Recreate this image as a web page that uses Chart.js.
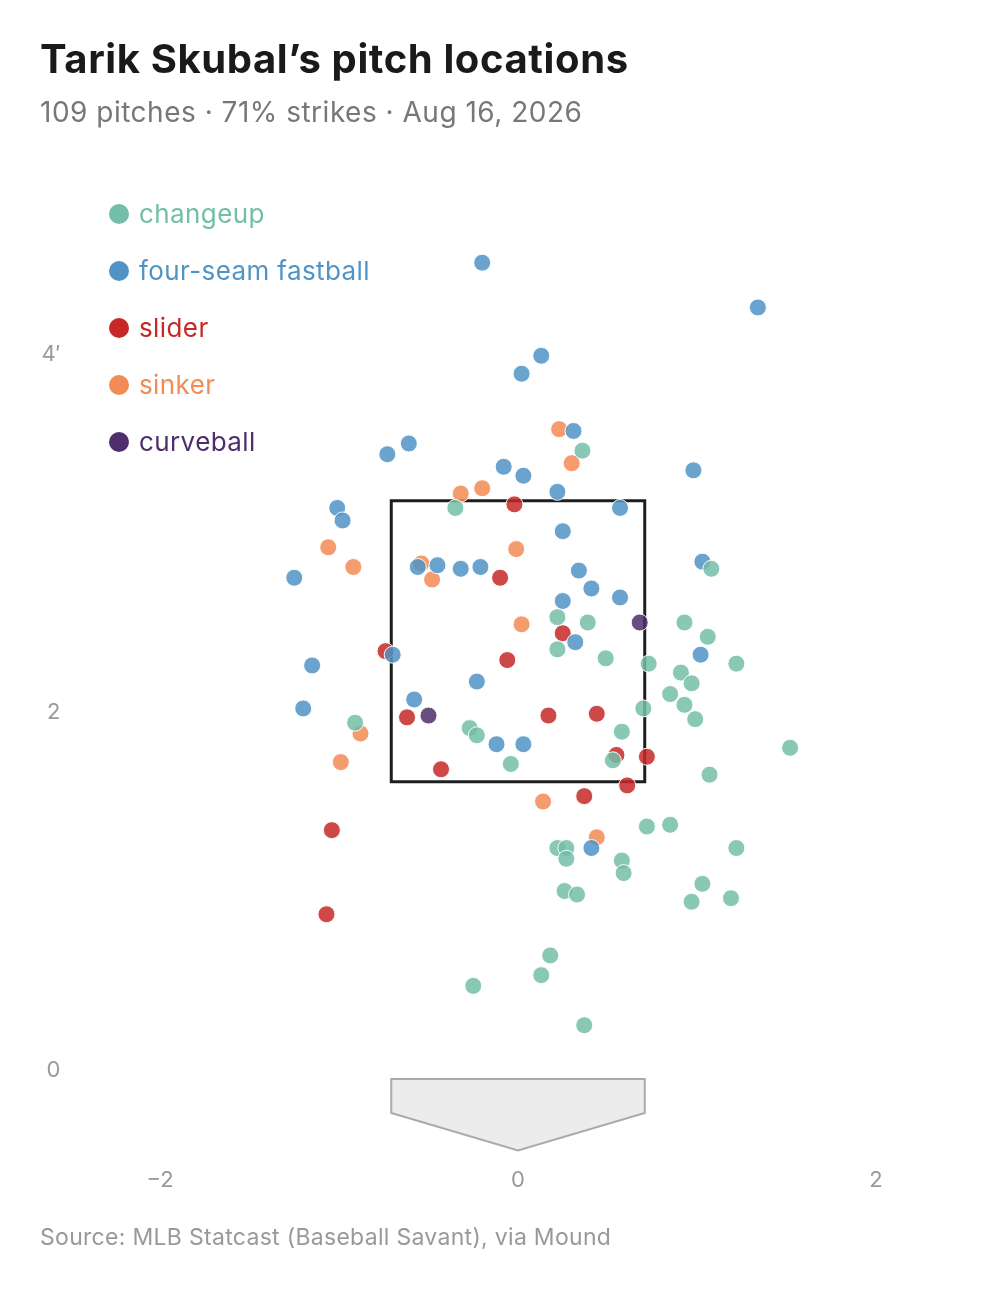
<!DOCTYPE html>
<html>
<head>
<meta charset="utf-8">
<title>Tarik Skubal’s pitch locations</title>
<script src="https://cdn.jsdelivr.net/npm/chart.js@4.4.1/dist/chart.umd.min.js"></script>
<style>
  body { margin: 0; background: #fff; font-family: Inter, "Noto Sans", sans-serif; }
  #wrap { position: relative; width: 1005px; height: 1289px; overflow: hidden; }
  #chart-box { position: absolute; left: 0; top: 0; width: 1005px; height: 1289px; }
  .txt { position: absolute; margin: 0; line-height: 1; white-space: nowrap; }
  #title { left: 40px; top: 38.5px; font-size: 40px; font-weight: 700; color: #1a1a1a; letter-spacing: 0.6px; }
  #subtitle { left: 40px; top: 98px; font-size: 28px; color: #777; letter-spacing: 0.5px; }
  #source { left: 40px; top: 1225.5px; font-size: 23px; color: #999; letter-spacing: 0.3px; }
  #legend { position: absolute; left: 109px; top: 185px; }
  .row { height: 57px; display: flex; align-items: center; font-size: 26px; letter-spacing: 0.4px; }
  .dot { width: 20px; height: 20px; border-radius: 50%; margin-right: 10px; flex: none; }
</style>
</head>
<body>
<div id="wrap">
  <div id="chart-box"><canvas id="myChart"></canvas></div>
  <h1 class="txt" id="title">Tarik Skubal’s pitch locations</h1>
  <div class="txt" id="subtitle">109 pitches · 71% strikes · Aug 16, 2026</div>
  <div id="legend"></div>
  <div class="txt" id="source">Source: MLB Statcast (Baseball Savant), via Mound</div>
</div>
<script>
// pitch types, in legend order
const pitchTypes = ["changeup", "four-seam fastball", "slider", "sinker", "curveball"];
const pitchColors = ["#73bea8", "#5094c6", "#c62828", "#f28b54", "#4e2e6b"];

// plate_x / plate_z in feet
const changeupX = [0.36, -0.35, 1.08, 0.22, 0.39, 0.22, 0.49, 0.93, 1.06, 0.73, 1.22, 0.91, 0.97, 0.85,
  0.93, 0.99, 0.70, 0.58, 1.52, -0.91, -0.27, -0.23, -0.04, 0.53, 1.07, 0.72, 0.85, 0.22, 0.27, 0.27,
  1.22, 0.58, 0.59, 1.03, 0.26, 0.33, 0.97, 1.19, 0.18, 0.13, -0.25, 0.37];
const changeupY = [3.46, 3.14, 2.80, 2.53, 2.50, 2.35, 2.30, 2.50, 2.42, 2.27, 2.27, 2.22, 2.16, 2.10,
  2.04, 1.96, 2.02, 1.89, 1.80, 1.94, 1.91, 1.87, 1.71, 1.73, 1.65, 1.36, 1.37, 1.24, 1.24, 1.18,
  1.24, 1.17, 1.10, 1.04, 1.00, 0.98, 0.94, 0.96, 0.64, 0.53, 0.47, 0.25];

const fastballX = [-0.20, 1.34, 0.13, 0.02, 0.31, -0.61, -0.73, -0.08, 0.98, 0.03, 0.22, -1.01, -0.98,
  0.57, 0.25, -0.56, -0.45, -0.32, -0.21, -1.25, 0.34, 0.41, 1.03, 0.25, 0.57, 0.32, -0.70, -1.15,
  1.02, -0.23, -0.58, -1.20, -0.12, 0.03, 0.41];
const fastballY = [4.51, 4.26, 3.99, 3.89, 3.57, 3.50, 3.44, 3.37, 3.35, 3.32, 3.23, 3.14, 3.07,
  3.14, 3.01, 2.81, 2.82, 2.80, 2.81, 2.75, 2.79, 2.69, 2.84, 2.62, 2.64, 2.39, 2.32, 2.26,
  2.32, 2.17, 2.07, 2.02, 1.82, 1.82, 1.24];

const sliderX = [-0.02, -0.10, 0.25, -0.74, -0.06, -0.62, 0.17, 0.44, -0.43, 0.55, 0.72, 0.61, 0.37, -1.04, -1.07];
const sliderY = [3.16, 2.75, 2.44, 2.34, 2.29, 1.97, 1.98, 1.99, 1.68, 1.76, 1.75, 1.59, 1.53, 1.34, 0.87];

const sinkerX = [0.23, 0.30, -0.32, -0.20, -1.06, -0.92, -0.54, -0.48, -0.01, 0.02, -0.88, -0.99, 0.14, 0.44];
const sinkerY = [3.58, 3.39, 3.22, 3.25, 2.92, 2.81, 2.83, 2.74, 2.91, 2.49, 1.88, 1.72, 1.50, 1.30];

const curveX = [0.68, -0.50];
const curveY = [2.50, 1.98];

// strike zone and home plate outline (feet)
const zoneX = [-0.708, 0.708, 0.708, -0.708];
const zoneY = [1.61, 1.61, 3.18, 3.18];
const plateX = [-0.708, 0.708, 0.708, 0, -0.708];
const plateY = [-0.05, -0.05, -0.24, -0.45, -0.24];

const xTicks = [-2, 0, 2];
const yTicks = [0, 2, 4];

const seriesX = [changeupX, fastballX, sliderX, sinkerX, curveX];
const seriesY = [changeupY, fastballY, sliderY, sinkerY, curveY];

function withAlpha(hex, a) {
    const n = parseInt(hex.slice(1), 16);
    return "rgba(" + (n >> 16) + "," + ((n >> 8) & 255) + "," + (n & 255) + "," + a + ")";
}

// legend
const legend = document.getElementById("legend");
pitchTypes.forEach(function(name, i) {
    const row = document.createElement("div");
    row.className = "row";
    row.style.color = pitchColors[i];
    row.innerHTML = '<span class="dot" style="background:' + pitchColors[i] + '"></span>' + name;
    legend.appendChild(row);
});

const datasets = pitchTypes.map(function(name, i) {
    return {
        label: name,
        data: seriesX[i].map(function(x, j) { return { x: x, y: seriesY[i][j] }; }),
        backgroundColor: withAlpha(pitchColors[i], 0.85),
        borderColor: "rgba(255,255,255,0.95)",
        borderWidth: 1,
        pointRadius: 8.5,
        pointHoverRadius: 8.5
    };
});

function outline(chart, xs, ys, close) {
    const sx = chart.scales.x, sy = chart.scales.y;
    const ctx = chart.ctx;
    ctx.beginPath();
    xs.forEach(function(x, i) {
        const px = sx.getPixelForValue(x), py = sy.getPixelForValue(ys[i]);
        if (i === 0) ctx.moveTo(px, py); else ctx.lineTo(px, py);
    });
    if (close) ctx.closePath();
}

const zonePlugin = {
    id: "zone",
    beforeDatasetsDraw(chart) {
        const ctx = chart.ctx;
        ctx.save();
        outline(chart, plateX, plateY, true);
        ctx.fillStyle = "#ececec";
        ctx.fill();
        ctx.strokeStyle = "#aaaaaa";
        ctx.lineWidth = 2;
        ctx.lineJoin = "miter";
        ctx.stroke();
        outline(chart, zoneX, zoneY, true);
        ctx.strokeStyle = "#1e1e1e";
        ctx.lineWidth = 3;
        ctx.stroke();
        ctx.restore();
    }
};

const tickFont = { family: "Inter", size: 22 };

const ctx = document.getElementById("myChart").getContext("2d");
const myChart = new Chart(ctx, {
    type: "scatter",
    data: { datasets: datasets },
    plugins: [zonePlugin],
    options: {
        responsive: true,
        maintainAspectRatio: false,
        animation: false,
        events: [],
        layout: { padding: { top: 175, right: 39.5, bottom: 79.5, left: 0 } },
        plugins: {
            legend: { display: false },
            tooltip: { enabled: false }
        },
        scales: {
            x: {
                type: "linear",
                min: -2.5,
                max: 2.5,
                grid: { display: false, drawTicks: false },
                border: { display: false },
                afterFit: function(scale) { scale.height = 50; },
                afterBuildTicks: function(scale) {
                    scale.ticks = xTicks.map(function(v) { return { value: v }; });
                },
                ticks: {
                    padding: 8,
                    color: "#999",
                    font: tickFont,
                    callback: function(v) { return v < 0 ? "\u2212" + Math.abs(v) : String(v); }
                }
            },
            y: {
                type: "linear",
                min: -0.5,
                max: 5,
                grid: { display: false, drawTicks: false },
                border: { display: false },
                afterFit: function(scale) { scale.width = 70.5; },
                afterBuildTicks: function(scale) {
                    scale.ticks = yTicks.map(function(v) { return { value: v }; });
                },
                ticks: {
                    padding: 10,
                    color: "#999",
                    font: tickFont,
                    callback: function(v) { return v === 4 ? "4\u2032" : String(v); }
                }
            }
        }
    }
});
</script>
</body>
</html>
